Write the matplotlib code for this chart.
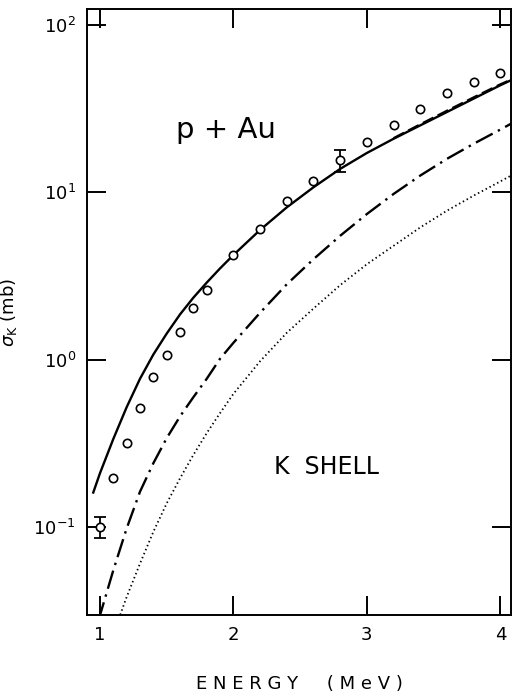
import matplotlib
matplotlib.use('Agg')
import matplotlib.pyplot as plt
import numpy as np
from matplotlib.ticker import LogLocator, LogFormatterMathtext, NullLocator, FixedLocator

# ============================================================
# DATA
# ============================================================
# experimental points, sigma_K in mb
exp_E = [1.0, 1.1, 1.2, 1.3, 1.4, 1.5, 1.6, 1.7, 1.8, 2.0,
         2.2, 2.4, 2.6, 2.8, 3.0, 3.2, 3.4, 3.6, 3.8, 4.0]
exp_sig = [0.100, 0.196, 0.317, 0.51, 0.79, 1.07, 1.47, 2.03, 2.61, 4.2,
           6.0, 8.87, 11.75, 15.6, 19.9, 25.2, 31.4, 39.5, 45.7, 52.0]
# error bars shown on two points only
err_E = [1.0, 2.8]
err_sig = [0.100, 15.6]
err_lo = [0.086, 13.2]
err_hi = [0.115, 17.8]

# solid curve (log10 sigma)
solid_E = [0.95, 1.0, 1.1, 1.2, 1.3, 1.4, 1.5, 1.6, 1.7, 1.8, 1.9, 2.0,
           2.2, 2.4, 2.6, 2.8, 3.0, 3.2, 3.4, 3.6, 3.8, 4.0, 4.08]
solid_log = [-0.795, -0.68, -0.475, -0.285, -0.115, 0.03, 0.155, 0.27, 0.37, 0.46, 0.545, 0.625,
             0.775, 0.91, 1.03, 1.14, 1.235, 1.32, 1.40, 1.48, 1.56, 1.64, 1.67]

# dashed curve (only visible where it sits on the solid one)
dash_E = [3.2, 3.4, 3.6, 3.8, 4.0, 4.08]
dash_log = [1.323, 1.406, 1.487, 1.567, 1.645, 1.673]

# dash-dot curve
dd_E = [0.99, 1.0, 1.1, 1.2, 1.3, 1.4, 1.5, 1.6, 1.7, 1.8, 1.9, 2.0,
        2.2, 2.4, 2.6, 2.8, 3.0, 3.2, 3.4, 3.6, 3.8, 4.0, 4.08]
dd_log = [-1.56, -1.53, -1.26, -1.01, -0.79, -0.62, -0.47, -0.34, -0.225, -0.115, 0.005, 0.10,
          0.28, 0.45, 0.60, 0.74, 0.87, 0.99, 1.10, 1.20, 1.29, 1.375, 1.41]

# dotted curve
dot_E = [1.14, 1.15, 1.2, 1.3, 1.4, 1.5, 1.6, 1.7, 1.8, 1.9, 2.0,
         2.2, 2.4, 2.6, 2.8, 3.0, 3.2, 3.4, 3.6, 3.8, 4.0, 4.08]
dot_log = [-1.55, -1.53, -1.42, -1.22, -1.03, -0.86, -0.71, -0.57, -0.44, -0.32, -0.205,
           -0.01, 0.16, 0.305, 0.445, 0.57, 0.68, 0.79, 0.89, 0.98, 1.065, 1.10]

# ============================================================
# FIGURE
# ============================================================
plt.rcParams['font.family'] = 'DejaVu Sans'
fig = plt.figure(figsize=(5.17, 6.99), dpi=100)
ax = fig.add_axes([87/517, 84/699, 424/517, 606/699])

ax.plot(solid_E, 10**np.array(solid_log), color='black', lw=1.7, ls='-')
ax.plot(dash_E, 10**np.array(dash_log), color='black', lw=1.7, ls=(0, (5, 2)))
ax.plot(dd_E, 10**np.array(dd_log), color='black', lw=1.7, ls=(0, (8, 2.5, 1, 2.5)))
ax.plot(dot_E, 10**np.array(dot_log), color='black', lw=1.3, ls=(0, (0.8, 1.6)))

ax.plot(exp_E, exp_sig, ls='none', marker='o', ms=6, mfc='white', mec='black', mew=1.2, zorder=5)
yerr = [np.array(err_sig) - np.array(err_lo), np.array(err_hi) - np.array(err_sig)]
ax.errorbar(err_E, err_sig, yerr=yerr, fmt='none', ecolor='black', elinewidth=1.3,
            capsize=4, capthick=1.3, zorder=4)

ax.set_yscale('log')
ax.set_xlim(0.903, 4.08)
ax.set_ylim(0.0297, 124.7)

ax.xaxis.set_major_locator(FixedLocator([1, 2, 3, 4]))
ax.yaxis.set_major_locator(LogLocator(base=10, numticks=10))
ax.yaxis.set_major_formatter(LogFormatterMathtext())
ax.yaxis.set_minor_locator(NullLocator())
ax.tick_params(which='major', direction='in', length=14, width=1.4,
               top=True, right=True, labelsize=13, pad=8)
for s in ax.spines.values():
    s.set_linewidth(1.4)

ax.set_ylabel(r'$\sigma_{\rm K}$ (mb)', fontsize=13, labelpad=10)
ax.set_xlabel('E N E R G Y     ( M e V )', fontsize=13, labelpad=22)

ax.text(0.21, 0.80, 'p + Au', transform=ax.transAxes, fontsize=21, ha='left', va='center')
ax.text(0.44, 0.245, 'K  SHELL', transform=ax.transAxes, fontsize=17, ha='left', va='center')

plt.savefig('out.png', dpi=100)
plt.close()
